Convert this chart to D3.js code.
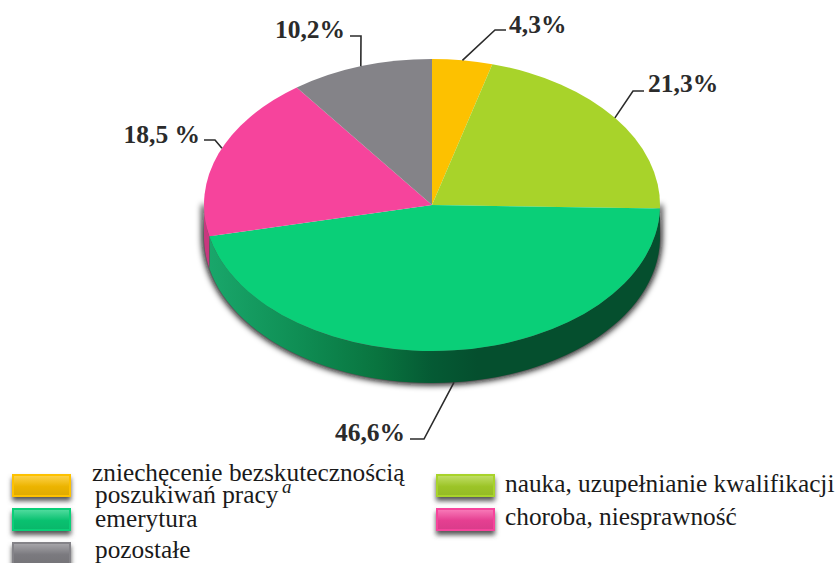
<!DOCTYPE html>
<html>
<head>
<meta charset="utf-8">
<script src="https://cdn.jsdelivr.net/npm/d3@7"></script>
<style>
    html, body { margin: 0; padding: 0; background: #fff; }
    svg { display: block; }
    text { font-family: "Liberation Serif", serif; }
</style>
</head>
<body>
<script>
const categories = ["zniechęcenie", "nauka", "emerytura", "choroba", "pozostałe"];
const values = [4.3, 21.3, 46.6, 18.5, 10.2];
const valueLabels = ["4,3%", "21,3%", "46,6%", "18,5 %", "10,2%"];
const colors = ["#fdc100", "#a8d32a", "#0acf78", "#f6449c", "#848388"];

const width = 836;
const height = 563;
const cx = 432, cy = 205, rx = 228, ry = 146, depth = 32;

const svg = d3.select("body").append("svg")
    .attr("width", width)
    .attr("height", height);

const defs = svg.append("defs");

const blur = defs.append("filter").attr("id", "pieShadow")
    .attr("x", "-10%").attr("y", "-10%").attr("width", "120%").attr("height", "120%");
blur.append("feGaussianBlur").attr("stdDeviation", 3);

const swatchBlur = defs.append("filter").attr("id", "swatchShadow")
    .attr("x", "-30%").attr("y", "-50%").attr("width", "160%").attr("height", "200%");
swatchBlur.append("feGaussianBlur").attr("stdDeviation", 2.5);

// side wall gets darker from the left edge to the front, then stays dark
const wallGrad = defs.append("linearGradient").attr("id", "wallGreen")
    .attr("gradientUnits", "userSpaceOnUse")
    .attr("x1", cx - rx).attr("x2", cx + rx).attr("y1", 0).attr("y2", 0);
[[0, "#1aa86c"], [0.2, "#0f8f55"], [0.38, "#09743f"], [0.5, "#055a34"], [0.6, "#054f2e"], [1, "#054f2e"]]
    .forEach(s => wallGrad.append("stop").attr("offset", s[0]).attr("stop-color", s[1]));

const pie = d3.pie().sort(null).value(d => d);
const slices = pie(values);

const arc = d3.arc().innerRadius(0).outerRadius(rx);

// point on the rim of the flattened pie
function rim(angle, dy = 0) {
    return [cx + rx * Math.sin(angle), cy - ry * Math.cos(angle) + dy];
}

const line = d3.line();

function wallPath(a0, a1) {
    const steps = d3.range(0, 61).map(i => a0 + (a1 - a0) * i / 60);
    const pts = steps.map(a => rim(a)).concat(steps.slice().reverse().map(a => rim(a, depth)));
    return line(pts) + "Z";
}

// only the front half of the rim can be seen
const front = slices.map((s, i) => ({
    i: i,
    a0: Math.max(s.startAngle, Math.PI / 2),
    a1: Math.min(s.endAngle, Math.PI * 1.5)
})).filter(d => d.a1 > d.a0);

// shadow
svg.append("path")
    .attr("d", wallPath(Math.PI / 2, Math.PI * 1.5))
    .attr("fill", "#111")
    .attr("stroke", "#111")
    .attr("stroke-width", 4)
    .attr("filter", "url(#pieShadow)");

svg.append("g").selectAll("path")
    .data(front)
    .join("path")
    .attr("d", d => wallPath(d.a0, d.a1))
    .attr("fill", d => d.i === 2 ? "url(#wallGreen)" : d3.color(colors[d.i]).darker(0.6));

svg.append("g")
    .attr("transform", `translate(${cx},${cy}) scale(1,${ry / rx})`)
    .selectAll("path")
    .data(slices)
    .join("path")
    .attr("d", arc)
    .attr("fill", (d, i) => colors[i]);

// leader elbows and ends, label anchors
const leaderLayout = [
    { elbow: [495, 30], end: [506, 30], text: [509, 33], anchor: "start", dy: 0, shift: 0 },
    { elbow: [633, 91], end: [644, 91], text: [648, 92], anchor: "start", dy: 0, shift: 0 },
    { elbow: [424, 439], end: [410, 439], text: [405, 441], anchor: "end", dy: depth, shift: 0 },
    { elbow: [215, 140], end: [204, 140], text: [200, 143], anchor: "end", dy: 0, shift: 0.04 },
    { elbow: [361, 36], end: [350, 36], text: [345, 38], anchor: "end", dy: 0, shift: 0 }
];

slices.forEach((s, i) => {
    const l = leaderLayout[i];
    const start = rim((s.startAngle + s.endAngle) / 2 + l.shift, l.dy);
    svg.append("path")
        .attr("d", line([start, l.elbow, l.end]))
        .attr("fill", "none")
        .attr("stroke", "#2b2b2b")
        .attr("stroke-width", 1.6);
    svg.append("text")
        .attr("x", l.text[0])
        .attr("y", l.text[1])
        .attr("text-anchor", l.anchor)
        .attr("font-size", 25.5)
        .attr("font-weight", "bold")
        .attr("fill", "#2b2b2b")
        .text(valueLabels[i]);
});

// legend
const legendRows = [
    { i: 0, x: 12, y: 474 },
    { i: 1, x: 436, y: 474 },
    { i: 2, x: 12, y: 508 },
    { i: 3, x: 436, y: 508 },
    { i: 4, x: 12, y: 542 }
];

legendRows.forEach(r => {
    const base = d3.color(colors[r.i]);
    const grad = defs.append("linearGradient").attr("id", "sw" + r.i)
        .attr("x1", 0).attr("x2", 0).attr("y1", 0).attr("y2", 1);
    grad.append("stop").attr("offset", 0).attr("stop-color", d3.interpolateRgb(base, "#fff")(0.3));
    grad.append("stop").attr("offset", 0.55).attr("stop-color", base.darker(0.2));
    grad.append("stop").attr("offset", 1).attr("stop-color", base.darker(0.35));

    svg.append("rect")
        .attr("x", r.x).attr("y", r.y + 4)
        .attr("width", 59).attr("height", 23)
        .attr("fill", "#555")
        .attr("filter", "url(#swatchShadow)");
    svg.append("rect")
        .attr("x", r.x + 1).attr("y", r.y + 1)
        .attr("width", 57).attr("height", 21)
        .attr("fill", `url(#sw${r.i})`)
        .attr("stroke", base)
        .attr("stroke-width", 2);
});

const legendText = [
    { x: 92, y: 481, t: "zniechęcenie bezskutecznością" },
    { x: 95, y: 503, t: "poszukiwań pracy" },
    { x: 95, y: 527, t: "emerytura" },
    { x: 95, y: 558, t: "pozostałe" },
    { x: 505, y: 492, t: "nauka, uzupełnianie kwalifikacji" },
    { x: 505, y: 525, t: "choroba, niesprawność" }
];

svg.append("g").selectAll("text")
    .data(legendText)
    .join("text")
    .attr("x", d => d.x)
    .attr("y", d => d.y)
    .attr("font-size", 25.3)
    .attr("fill", "#1a1a1a")
    .text(d => d.t);

svg.append("text")
    .attr("x", 282).attr("y", 493)
    .attr("font-size", 19)
    .attr("font-style", "italic")
    .attr("fill", "#1a1a1a")
    .text("a");
</script>
</body>
</html>
